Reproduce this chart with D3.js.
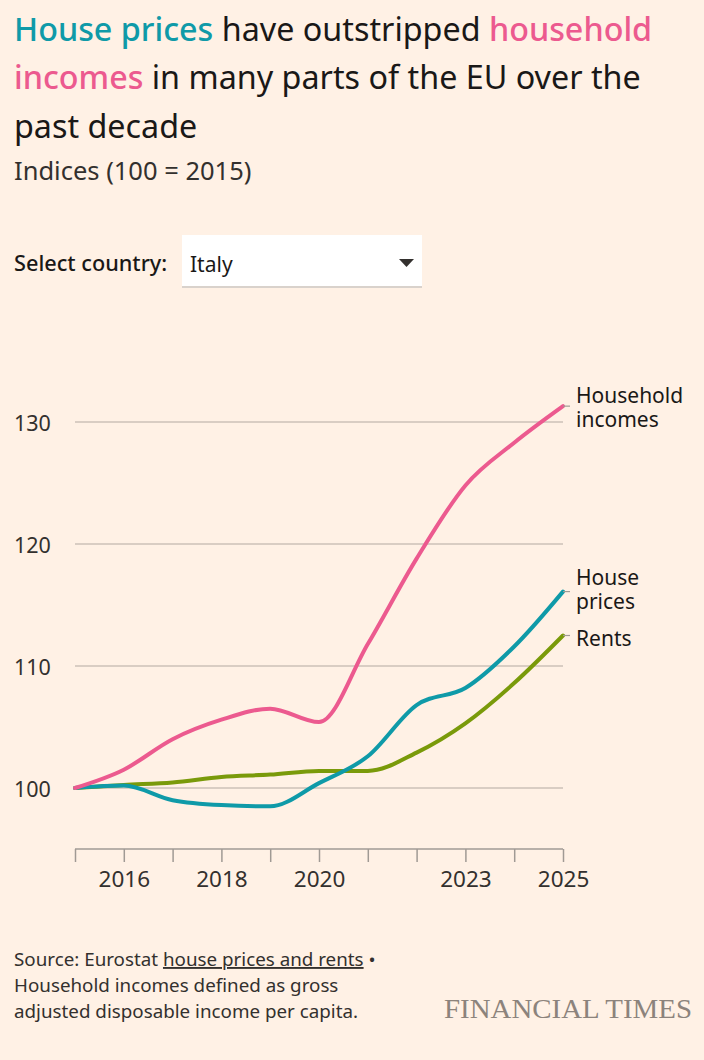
<!DOCTYPE html>
<html>
<head>
<meta charset="utf-8">
<script src="https://cdn.jsdelivr.net/npm/d3@7"></script>
<style>
  html, body { margin: 0; padding: 0; background: #fff1e5; }
  svg { display: block; }
  text { font-family: "Noto Sans", Lato, sans-serif; }
</style>
</head>
<body>
<svg id="chart" width="704" height="1060"></svg>
<script>
const years = [2015, 2016, 2017, 2018, 2019, 2020, 2021, 2022, 2023, 2024, 2025];
const householdIncomes = [100, 101.5, 104.0, 105.6, 106.5, 105.4, 111.8, 118.8, 124.8, 128.3, 131.3];
const housePrices = [100, 100.2, 99.0, 98.6, 98.5, 100.4, 102.6, 106.8, 108.2, 111.6, 116.1];
const rents = [100, 100.25, 100.45, 100.9, 101.1, 101.4, 101.4, 102.9, 105.3, 108.6, 112.5];
const yTicks = [100, 110, 120, 130];
const xTickLabels = [2016, 2018, 2020, 2023, 2025];
const seriesNames = ["Household incomes", "House prices", "Rents"];
const seriesColors = ["#ec5a8f", "#0f9aa8", "#7a9a0a"];
const labelLines = [["Household", "incomes"], ["House", "prices"], ["Rents"]];

const svg = d3.select("#chart");
svg.append("rect").attr("width", 704).attr("height", 1060).attr("fill", "#fff1e5");

// Title
const title = svg.append("text").attr("x", 14).attr("y", 41)
  .attr("font-size", 32.3).attr("fill", "#1a1817");
title.append("tspan").attr("fill", "#0f9aa8").attr("font-weight", 500).text("House prices");
title.append("tspan").text(" have outstripped ");
title.append("tspan").attr("fill", "#ec5a8f").attr("font-weight", 500).text("household");
const t2 = svg.append("text").attr("x", 14).attr("y", 89)
  .attr("font-size", 32.3).attr("fill", "#1a1817");
t2.append("tspan").attr("fill", "#ec5a8f").attr("font-weight", 500).text("incomes");
t2.append("tspan").text(" in many parts of the EU over the");
svg.append("text").attr("x", 14).attr("y", 138).attr("font-size", 32.3)
  .attr("fill", "#1a1817").text("past decade");
svg.append("text").attr("x", 14).attr("y", 180).attr("font-size", 25.5)
  .attr("fill", "#33302e").text("Indices (100 = 2015)");

// Dropdown
svg.append("text").attr("x", 14).attr("y", 271).attr("font-size", 21.7)
  .attr("font-weight", 500).attr("fill", "#1a1817").text("Select country:");
svg.append("rect").attr("x", 182).attr("y", 237).attr("width", 240).attr("height", 51)
  .attr("fill", "#d9d2cc");
svg.append("rect").attr("x", 182).attr("y", 235).attr("width", 240).attr("height", 51)
  .attr("fill", "#ffffff");
svg.append("text").attr("x", 190).attr("y", 272).attr("font-size", 21)
  .attr("fill", "#1a1817").text("Italy");
svg.append("path").attr("d", "M399,259 L414,259 L406.5,267 Z").attr("fill", "#33302e");

// Scales
const x = d3.scaleLinear().domain([2015, 2025]).range([75, 563]);
const y = d3.scaleLinear().domain([100, 130]).range([788, 422]);

// Gridlines
svg.append("g").selectAll("line").data(yTicks).join("line")
  .attr("x1", 75).attr("x2", 563)
  .attr("y1", d => y(d)).attr("y2", d => y(d))
  .attr("stroke", "#ccc1b7").attr("stroke-width", 1.5);
svg.append("g").selectAll("text").data(yTicks).join("text")
  .attr("x", 14).attr("y", d => y(d) + 9)
  .attr("font-size", 21.5).attr("fill", "#33302e").text(d => d);

// X axis
const xAxis = d3.axisBottom(x).tickValues(years).tickSize(13)
  .tickFormat(d => xTickLabels.includes(d) ? d : "");
const gx = svg.append("g").attr("transform", "translate(0,849)").call(xAxis);
gx.select(".domain").attr("stroke", "#a09a94").attr("stroke-width", 1.5)
  .attr("d", `M${x(2015)},0H${x(2025)}`);
gx.selectAll(".tick line").attr("stroke", "#a09a94").attr("stroke-width", 1.5);
gx.selectAll(".tick text").attr("font-size", 22.5).attr("fill", "#33302e")
  .attr("font-family", "'Noto Sans', Lato, sans-serif").attr("dy", 0).attr("y", 38);

// Lines
const series = [householdIncomes, housePrices, rents];
const line = d3.line().x((d, i) => x(years[i])).y(d => y(d)).curve(d3.curveMonotoneX);
const drawOrder = [2, 1, 0];
drawOrder.forEach(k => {
  svg.append("path").datum(series[k]).attr("d", line)
    .attr("fill", "none").attr("stroke", seriesColors[k]).attr("stroke-width", 4)
    .attr("stroke-linecap", "round");
});

// Labels
const labelY = [403, 585, 646];
series.forEach((s, k) => {
  const yEnd = y(s[s.length - 1]);
  svg.append("line").attr("x1", x(2025)).attr("x2", x(2025) + 7)
    .attr("y1", yEnd).attr("y2", yEnd).attr("stroke", "#a09a94").attr("stroke-width", 1.2);
  const lbl = svg.append("text").attr("x", 576).attr("y", labelY[k])
    .attr("font-size", 21).attr("fill", "#1a1817");
  labelLines[k].forEach((txt, j) => {
    lbl.append("tspan").attr("x", 576).attr("dy", j === 0 ? 0 : 24).text(txt);
  });
});

// Source
const src = svg.append("text").attr("x", 14).attr("y", 966).attr("font-size", 18.8).attr("fill", "#33302e");
src.append("tspan").text("Source: Eurostat ");
src.append("tspan").attr("text-decoration", "underline").text("house prices and rents");
src.append("tspan").text(" \u2022");
svg.append("text").attr("x", 14).attr("y", 992).attr("font-size", 18.8).attr("fill", "#33302e")
  .text("Household incomes defined as gross");
svg.append("text").attr("x", 14).attr("y", 1018).attr("font-size", 18.8).attr("fill", "#33302e")
  .text("adjusted disposable income per capita.");
svg.append("text").attr("x", 692).attr("y", 1018).attr("text-anchor", "end")
  .attr("font-size", 27).attr("fill", "#8c837c")
  .style("font-family", "'Liberation Serif', 'DejaVu Serif', serif")
  .attr("textLength", 248).attr("lengthAdjust", "spacingAndGlyphs")
  .text("FINANCIAL TIMES");
</script>
</body>
</html>
